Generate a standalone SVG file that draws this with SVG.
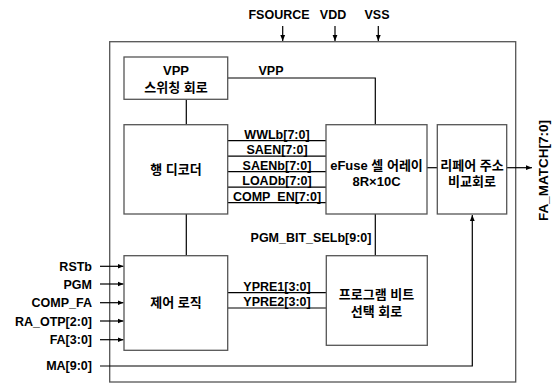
<svg xmlns="http://www.w3.org/2000/svg" width="553" height="383" viewBox="0 0 553 383">
<defs>
<marker id="ah" viewBox="0 0 10 10" refX="10" refY="5" markerWidth="6" markerHeight="6" markerUnits="userSpaceOnUse" orient="auto"><path d="M0,1 L10,5 L0,9 Z" fill="#000"/></marker>
<style>
.box{fill:#fff;stroke:#555;stroke-width:1.3}
.ln{fill:none;stroke:#000;stroke-width:1.2}
.lb{font-family:"Liberation Sans",Arial,sans-serif;font-weight:bold;font-size:12.5px;fill:#000}
.kr{font-family:"Liberation Sans","Noto Sans CJK KR",sans-serif;font-weight:bold;font-size:13px;fill:#000;text-anchor:middle}
.m{text-anchor:middle}
.r{text-anchor:end}
</style>
</defs>
<rect width="553" height="383" fill="#fff"/>
<g id="outer"><rect class="box" x="109.7" y="41.7" width="406" height="340.3"/></g>
<g id="connectors">
<path class="ln" d="M282.7,26 V41" marker-end="url(#ah)"/>
<path class="ln" d="M335,26 V41" marker-end="url(#ah)"/>
<path class="ln" d="M378.3,26 V41" marker-end="url(#ah)"/>
<path class="ln" d="M228,78 H375.3 V124.7"/>
<path class="ln" d="M186.3,99.3 V124.7"/>
<path class="ln" d="M186.3,214 V255.7"/>
<path class="ln" d="M228,140.7 H326 M228,156.2 H326 M228,171.7 H326 M228,187.2 H326 M228,202.7 H326"/>
<path class="ln" d="M375.3,214 V255.7"/>
<path class="ln" d="M228,292.7 H326 M228,308 H326"/>
<path class="ln" d="M427,167.7 H437.3"/>
<path class="ln" d="M506.7,167.7 H532" marker-end="url(#ah)"/>
<path class="ln" d="M100,366 H472.3 V215" marker-end="url(#ah)"/>
<path class="ln" d="M100,266.3 H123.5" marker-end="url(#ah)"/>
<path class="ln" d="M100,284 H123.5" marker-end="url(#ah)"/>
<path class="ln" d="M100,302.7 H123.5" marker-end="url(#ah)"/>
<path class="ln" d="M100,321 H123.5" marker-end="url(#ah)"/>
<path class="ln" d="M100,339.7 H123.5" marker-end="url(#ah)"/>
</g>
<g id="vpp_switch"><rect class="box" x="124" y="57" width="103.7" height="42.3"/><text class="kr" x="176" y="74.5">VPP</text><text class="kr" x="176" y="92">스위칭 회로</text></g>
<g id="row_decoder"><rect class="box" x="124" y="124.7" width="103.7" height="89.3"/><text class="kr" x="176" y="174">행 디코더</text></g>
<g id="efuse"><rect class="box" x="326" y="124.7" width="101" height="89.3"/><text class="kr" x="376.5" y="170">eFuse 셀 어레이</text><text class="kr" x="376.5" y="186">8R×10C</text></g>
<g id="repair"><rect class="box" x="437.3" y="124.7" width="69.4" height="89.3"/><text class="kr" x="472" y="170">리페어 주소</text><text class="kr" x="472" y="186">비교회로</text></g>
<g id="control"><rect class="box" x="124" y="255.7" width="103.7" height="94.6"/><text class="kr" x="176" y="307">제어 로직</text></g>
<g id="pgm_sel"><rect class="box" x="326.3" y="255.7" width="101" height="89.6"/><text class="kr" x="376.5" y="299">프로그램 비트</text><text class="kr" x="376.5" y="315.5">선택 회로</text></g>
<g id="labels">
<text class="lb m" x="279" y="18.5">FSOURCE</text>
<text class="lb m" x="333" y="18.5">VDD</text>
<text class="lb m" x="377" y="18.5">VSS</text>
<text class="lb m" x="271" y="75">VPP</text>
<text class="lb m" x="277" y="138.5">WWLb[7:0]</text>
<text class="lb m" x="277" y="154">SAEN[7:0]</text>
<text class="lb m" x="277" y="169.5">SAENb[7:0]</text>
<text class="lb m" x="277" y="185">LOADb[7:0]</text>
<text class="lb m" x="277" y="200.5">COMP_EN[7:0]</text>
<text class="lb m" x="311" y="241.5">PGM_BIT_SELb[9:0]</text>
<text class="lb m" x="277" y="290.5">YPRE1[3:0]</text>
<text class="lb m" x="277" y="305.5">YPRE2[3:0]</text>
<text class="lb r" x="92" y="270.5">RSTb</text>
<text class="lb r" x="92" y="288.5">PGM</text>
<text class="lb r" x="92" y="307">COMP_FA</text>
<text class="lb r" x="92" y="325.5">RA_OTP[2:0]</text>
<text class="lb r" x="92" y="344">FA[3:0]</text>
<text class="lb r" x="92" y="370">MA[9:0]</text>
<text class="lb m" style="font-size:13.5px" transform="translate(547.5,170.5) rotate(-90)">FA_MATCH[7:0]</text>
</g>
</svg>
